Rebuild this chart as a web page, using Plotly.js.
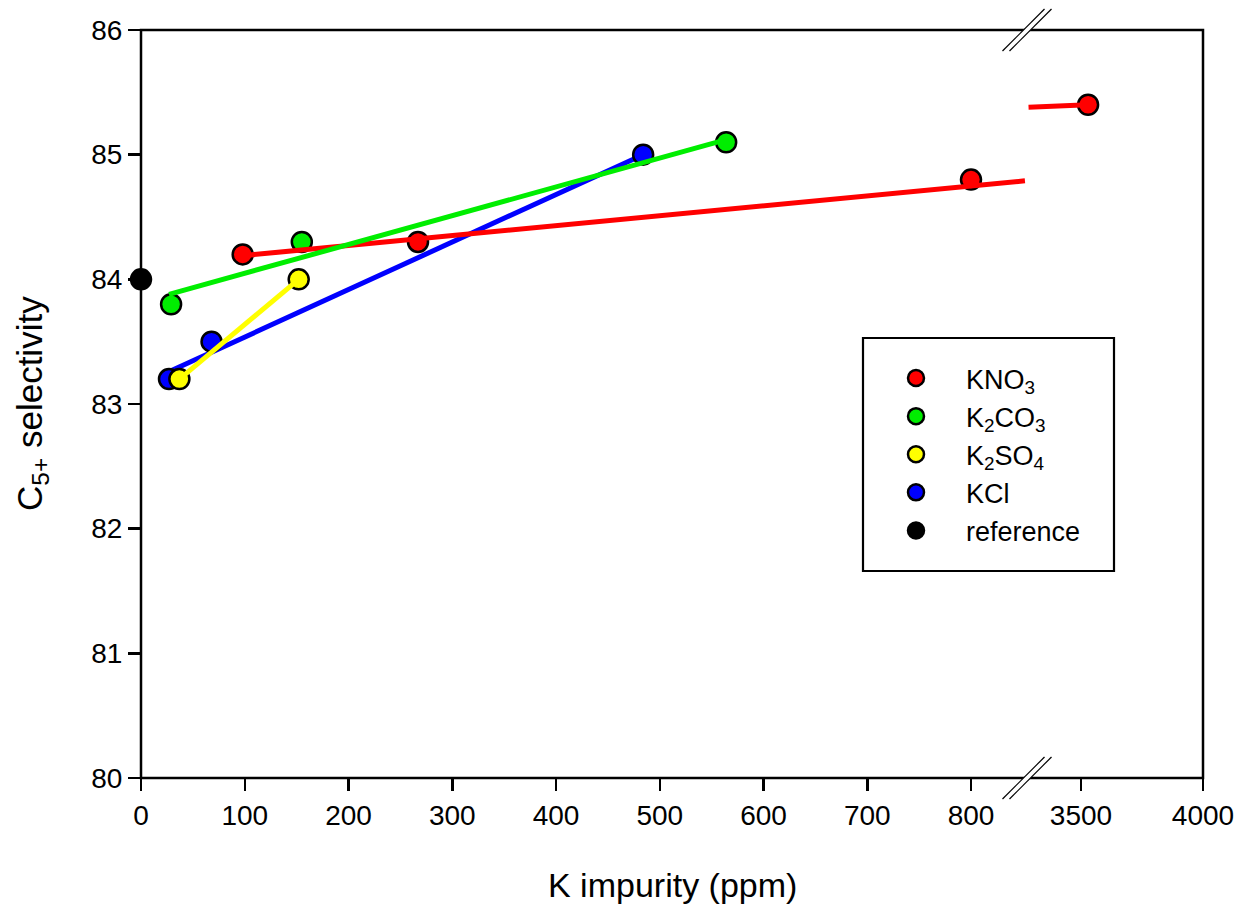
<!DOCTYPE html>
<html>
<head>
<meta charset="utf-8">
<script src="https://cdn.plot.ly/plotly-3.0.1.min.js"></script>
<style>html,body{margin:0;padding:0;background:#fff;}#chart{width:1242px;height:909px;}</style>
</head>
<body>
<div id="chart"></div>
<script>
// ---- data ----
const seriesNames = ['KNO<sub>3</sub>', 'K<sub>2</sub>CO<sub>3</sub>', 'K<sub>2</sub>SO<sub>4</sub>', 'KCl', 'reference'];

// KNO3 points (left segment of broken axis) and the one beyond the break
const kno3X = [98, 267, 800];
const kno3Y = [84.2, 84.3, 84.8];
const kno3XBreak = [3529];
const kno3YBreak = [85.4];
// KNO3 fitted line (left + right of break)
const kno3FitX = [98, 852];
const kno3FitY = [84.19, 84.79];
const kno3FitXBreak = [3285, 3529];
const kno3FitYBreak = [85.38, 85.40];

const k2co3X = [29, 155, 564];
const k2co3Y = [83.8, 84.3, 85.1];
const k2co3FitX = [27, 564];
const k2co3FitY = [83.88, 85.12];

const k2so4X = [37, 152];
const k2so4Y = [83.2, 84.0];
const k2so4FitX = [37, 152];
const k2so4FitY = [83.2, 84.0];

const kclX = [27, 68, 484];
const kclY = [83.2, 83.5, 85.0];
const kclFitX = [22, 484];
const kclFitY = [83.24, 85.0];

const refX = [0];
const refY = [84.0];

const xTicksLeft = [0, 100, 200, 300, 400, 500, 600, 700, 800];
const xTicksRight = [3500, 4000];
const yTicks = [80, 81, 82, 83, 84, 85, 86];

// ---- styling ----
const colors = {kno3: '#ff0000', k2co3: '#00ee00', k2so4: '#ffff00', kcl: '#0000ff', ref: '#000000'};
const FONT = 'Liberation Sans, Arial, sans-serif';
const mk = c => ({size: 20, color: c, line: {color: '#000', width: 2.5}});
const ln = c => ({color: c, width: 5});

// geometry in pixels (for paper-coordinate decorations)
const L = 141, R = 1203, T = 30, B = 778;
const px = x => (x - L) / (R - L);
const py = y => (B - y) / (B - T);
const breakPx = 1027;

const traces = [
  {x: kclFitX, y: kclFitY, mode: 'lines', line: ln(colors.kcl), showlegend: false, hoverinfo: 'skip', xaxis: 'x', yaxis: 'y'},
  {x: kclX, y: kclY, mode: 'markers', marker: mk(colors.kcl), name: seriesNames[3], legendgroup: 'd', legendrank: 4, xaxis: 'x', yaxis: 'y', cliponaxis: false},
  {x: kno3X, y: kno3Y, mode: 'markers', marker: mk(colors.kno3), name: seriesNames[0], legendgroup: 'a', legendrank: 1, xaxis: 'x', yaxis: 'y', cliponaxis: false},
  {x: kno3XBreak, y: kno3YBreak, mode: 'markers', marker: mk(colors.kno3), name: seriesNames[0], legendgroup: 'a', showlegend: false, xaxis: 'x2', yaxis: 'y', cliponaxis: false},
  {x: k2co3X, y: k2co3Y, mode: 'markers', marker: mk(colors.k2co3), name: seriesNames[1], legendgroup: 'b', legendrank: 2, xaxis: 'x', yaxis: 'y', cliponaxis: false},
  {x: k2so4X, y: k2so4Y, mode: 'markers', marker: mk(colors.k2so4), name: seriesNames[2], legendgroup: 'c', legendrank: 3, xaxis: 'x', yaxis: 'y', cliponaxis: false},
  {x: refX, y: refY, mode: 'markers', marker: mk(colors.ref), name: seriesNames[4], legendgroup: 'e', legendrank: 5, xaxis: 'x', yaxis: 'y', cliponaxis: false},
  {x: kno3FitX, y: kno3FitY, mode: 'lines', line: ln(colors.kno3), showlegend: false, hoverinfo: 'skip', xaxis: 'x', yaxis: 'y'},
  {x: kno3FitXBreak, y: kno3FitYBreak, mode: 'lines', line: ln(colors.kno3), showlegend: false, hoverinfo: 'skip', xaxis: 'x2', yaxis: 'y'},
  {x: k2co3FitX, y: k2co3FitY, mode: 'lines', line: ln(colors.k2co3), showlegend: false, hoverinfo: 'skip', xaxis: 'x', yaxis: 'y'},
  {x: k2so4FitX, y: k2so4FitY, mode: 'lines', line: ln(colors.k2so4), showlegend: false, hoverinfo: 'skip', xaxis: 'x', yaxis: 'y'}
];

// break marks
function breakShapes(cy) {
  const s = [];
  const h = 21, off = 3.5;
  s.push({type: 'path', xref: 'paper', yref: 'paper', layer: 'above',
    path: `M ${px(breakPx - off - h)} ${py(cy + h)} L ${px(breakPx - off + h)} ${py(cy - h)} L ${px(breakPx + off + h)} ${py(cy - h)} L ${px(breakPx + off - h)} ${py(cy + h)} Z`,
    fillcolor: '#ffffff', line: {width: 0}});
  [-off, off].forEach(o => s.push({type: 'line', xref: 'paper', yref: 'paper', layer: 'above',
    x0: px(breakPx + o - h), y0: py(cy + h), x1: px(breakPx + o + h), y1: py(cy - h),
    line: {color: '#000', width: 1.2}}));
  return s;
}

const axisCommon = {showgrid: false, zeroline: false, showline: false, ticks: 'outside', ticklen: 12, tickwidth: 2.5, tickcolor: '#000',
  tickfont: {family: FONT, size: 28, color: '#000'}};

const layout = {
  width: 1242, height: 909,
  margin: {l: L, r: 1242 - R, t: T, b: 909 - B},
  paper_bgcolor: '#fff', plot_bgcolor: '#fff',
  showlegend: true,
  legend: {x: px(866), y: py(354), xanchor: 'left', yanchor: 'top', bgcolor: 'rgba(0,0,0,0)', borderwidth: 0,
    font: {family: FONT, size: 27, color: '#000'}, traceorder: 'grouped', tracegroupgap: 0, itemwidth: 90},
  xaxis: Object.assign({}, axisCommon, {domain: [0, px(breakPx)], range: [0, (breakPx - L) / 1.0375], tickvals: xTicksLeft, anchor: 'y'}),
  xaxis2: Object.assign({}, axisCommon, {domain: [px(breakPx), 1], range: [3500 - (1081 - breakPx) / 0.244, 4000], tickvals: xTicksRight, anchor: 'y'}),
  yaxis: Object.assign({}, axisCommon, {range: [80, 86], tickvals: yTicks, anchor: 'x'}),
  annotations: [
    {xref: 'paper', yref: 'paper', x: 0.5, y: py(885), yanchor: 'middle', xanchor: 'center', showarrow: false,
      text: 'K impurity (ppm)', font: {family: FONT, size: 34, color: '#000'}},
    {xref: 'paper', yref: 'paper', x: px(32), y: py(404), yanchor: 'middle', xanchor: 'center', showarrow: false, textangle: -90,
      text: 'C<sub>5+</sub> selectivity', font: {family: FONT, size: 35, color: '#000'}}
  ],
  shapes: [
    {type: 'rect', xref: 'paper', yref: 'paper', x0: 0, y0: 0, x1: 1, y1: 1, line: {color: '#000', width: 2.5}, layer: 'above'},
    {type: 'rect', xref: 'paper', yref: 'paper', x0: px(863), y0: py(338), x1: px(1114), y1: py(571), line: {color: '#000', width: 2.2}, layer: 'above'}
  ].concat(breakShapes(T)).concat(breakShapes(B))
};

Plotly.newPlot('chart', traces, layout, {displayModeBar: false, staticPlot: true});
</script>
</body>
</html>
